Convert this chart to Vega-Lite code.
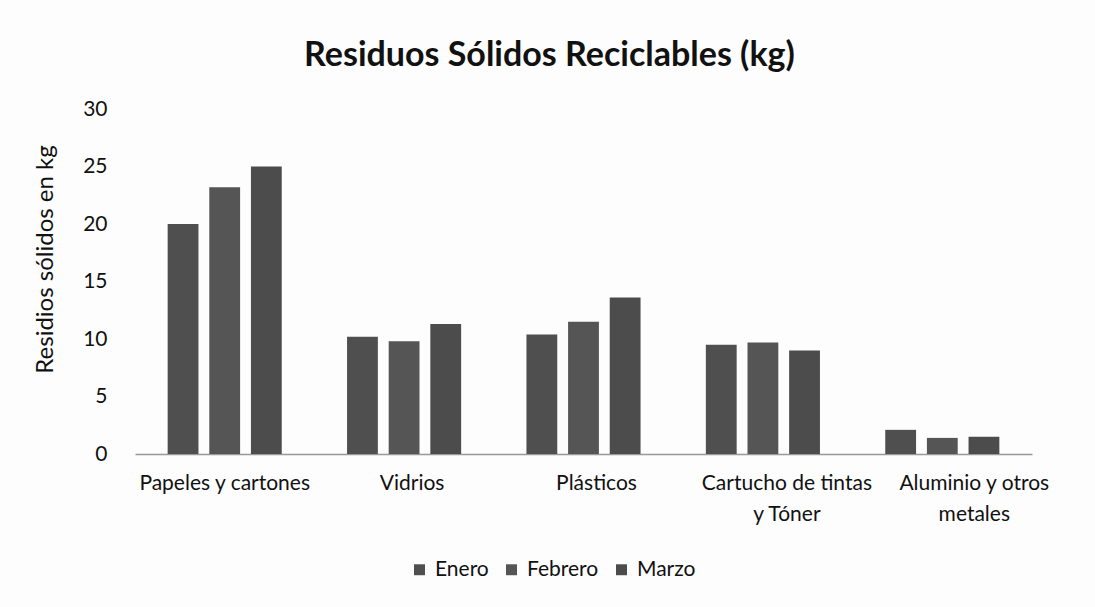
{
  "$schema": "https://vega.github.io/schema/vega-lite/v6.json",
  "width": 897,
  "height": 345,
  "autosize": {"type": "none"},
  "padding": {"left": 135, "top": 109, "right": 63, "bottom": 153},
  "background": "#fdfdfd",
  "title": {
    "text": "Residuos Sólidos Reciclables (kg)",
    "font": "Lato",
    "fontSize": 34,
    "fontWeight": "bold",
    "color": "#111111",
    "anchor": "middle",
    "dx": -34,
    "offset": 25
  },
  "data": {
    "values": [
      {"categoria": "Papeles y cartones", "mes": "Enero", "kg": 20},
      {"categoria": "Papeles y cartones", "mes": "Febrero", "kg": 23.2},
      {"categoria": "Papeles y cartones", "mes": "Marzo", "kg": 25},
      {"categoria": "Vidrios", "mes": "Enero", "kg": 10.2},
      {"categoria": "Vidrios", "mes": "Febrero", "kg": 9.8},
      {"categoria": "Vidrios", "mes": "Marzo", "kg": 11.3},
      {"categoria": "Plásticos", "mes": "Enero", "kg": 10.4},
      {"categoria": "Plásticos", "mes": "Febrero", "kg": 11.5},
      {"categoria": "Plásticos", "mes": "Marzo", "kg": 13.6},
      {"categoria": "Cartucho de tintas y Tóner", "mes": "Enero", "kg": 9.5},
      {"categoria": "Cartucho de tintas y Tóner", "mes": "Febrero", "kg": 9.7},
      {"categoria": "Cartucho de tintas y Tóner", "mes": "Marzo", "kg": 9.0},
      {"categoria": "Aluminio y otros metales", "mes": "Enero", "kg": 2.1},
      {"categoria": "Aluminio y otros metales", "mes": "Febrero", "kg": 1.4},
      {"categoria": "Aluminio y otros metales", "mes": "Marzo", "kg": 1.5}
    ]
  },
  "mark": {"type": "bar"},
  "encoding": {
    "x": {
      "field": "categoria",
      "type": "nominal",
      "sort": null,
      "scale": {"paddingInner": 0.364, "paddingOuter": 0.182},
      "axis": {
        "title": null,
        "labelAngle": 0,
        "labelFont": "Lato",
        "labelFontSize": 21,
        "labelColor": "#111111",
        "labelPadding": 18,
        "labelLineHeight": 31,
        "labelBaseline": "top",
        "ticks": false,
        "domainColor": "#999999",
        "domainWidth": 1.5,
        "labelOffset": {
          "condition": [
            {"test": "datum.value == 'Aluminio y otros metales'", "value": 32},
            {"test": "datum.value == 'Cartucho de tintas y Tóner'", "value": 24},
            {"test": "datum.value == 'Plásticos'", "value": 13},
            {"test": "datum.value == 'Vidrios'", "value": 8}
          ],
          "value": 0
        },
        "labelExpr": "datum.value == 'Cartucho de tintas y Tóner' ? ['Cartucho de tintas', 'y Tóner'] : datum.value == 'Aluminio y otros metales' ? ['Aluminio y otros', 'metales'] : datum.value"
      }
    },
    "xOffset": {
      "field": "mes",
      "type": "nominal",
      "sort": ["Enero", "Febrero", "Marzo"],
      "scale": {"paddingInner": 0.26, "paddingOuter": 0}
    },
    "y": {
      "field": "kg",
      "type": "quantitative",
      "scale": {"domain": [0, 30]},
      "axis": {
        "title": "Residios sólidos en kg",
        "titleFont": "Lato",
        "titleFontSize": 24,
        "titleFontWeight": "normal",
        "titleColor": "#111111",
        "titleX": -90,
        "titleY": 150,
        "titleBaseline": "middle",
        "values": [0, 5, 10, 15, 20, 25, 30],
        "labelFont": "Lato",
        "labelFontSize": 21,
        "labelColor": "#111111",
        "labelPadding": 28,
        "ticks": false,
        "domain": false,
        "grid": false
      }
    },
    "color": {
      "field": "mes",
      "type": "nominal",
      "sort": ["Enero", "Febrero", "Marzo"],
      "scale": {"domain": ["Enero", "Febrero", "Marzo"], "range": ["#4f4f4f", "#555555", "#4c4c4c"]},
      "legend": {
        "title": null,
        "orient": "none",
        "direction": "horizontal",
        "legendX": 274,
        "legendY": 450,
        "symbolType": "square",
        "symbolSize": 120,
        "symbolStrokeWidth": 0,
        "labelFont": "Lato",
        "labelFontSize": 21,
        "labelColor": "#111111",
        "labelOffset": 5,
        "columnPadding": 12
      }
    }
  },
  "config": {"view": {"stroke": null}}
}
